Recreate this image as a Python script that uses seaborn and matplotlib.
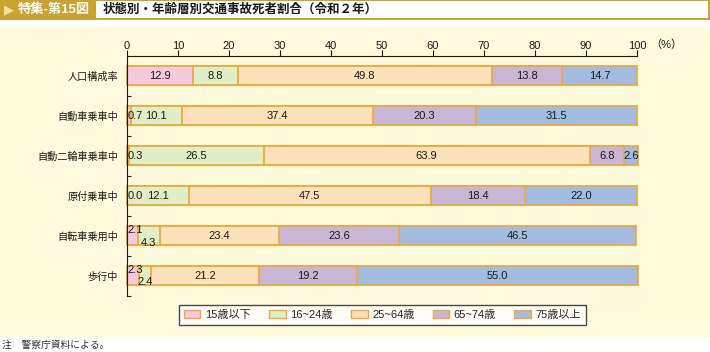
import numpy as np
import matplotlib
matplotlib.use('Agg')
import matplotlib.pyplot as plt
import seaborn as sns
from matplotlib.patches import Patch, Rectangle

# data (%)
categories = ['人口構成率', '自動車乗車中', '自動二輪車乗車中', '原付乗車中', '自転車乗用中', '歩行中']
age_groups = ['15歳以下', '16~24歳', '25~64歳', '65~74歳', '75歳以上']
under15 = [12.9, 0.7, 0.3, 0.0, 2.1, 2.3]
age16_24 = [8.8, 10.1, 26.5, 12.1, 4.3, 2.4]
age25_64 = [49.8, 37.4, 63.9, 47.5, 23.4, 21.2]
age65_74 = [13.8, 20.3, 6.8, 18.4, 23.6, 19.2]
over75 = [14.7, 31.5, 2.6, 22.0, 46.5, 55.0]

colors = ['#F6C8DD', '#E0EEC6', '#FDE1B9', '#C8B6D9', '#A2BCE1']
edge = '#F0A93A'
gold = '#C9A22F'
cream = '#FFFADB'

sns.set_style('white')
plt.rcParams['font.family'] = ['Liberation Sans', 'Noto Sans CJK JP', 'DejaVu Sans']

W, H = 710, 352
fig = plt.figure(figsize=(W / 100, H / 100), dpi=100)
fig.patch.set_facecolor('white')

def fx(px):
    return px / W

def fy(py):
    return 1 - py / H

# header band and cream panel
fig.patches.append(Rectangle((0, fy(20)), 1, 20 / H, transform=fig.transFigure,
                             facecolor=gold, edgecolor='none', zorder=-3))
fig.patches.append(Rectangle((fx(96), fy(18)), fx(612), 17 / H, transform=fig.transFigure,
                             facecolor='white', edgecolor='none', zorder=-2))
fig.patches.append(Rectangle((0, fy(337)), 1, 310 / H, transform=fig.transFigure,
                             facecolor=cream, edgecolor='none', zorder=-3))
fig.text(fx(4), fy(10), '▶', color='#F3E3A0', fontsize=9.5, va='center', ha='left',
         family=['DejaVu Sans'])
fig.text(fx(18), fy(10), '特集-第15図', color='white', fontsize=9.5, fontweight='bold',
         va='center', ha='left')
fig.text(fx(103), fy(10), '状態別・年齢層別交通事故死者割合（令和２年）', color='#1a1a1a',
         fontsize=9, fontweight='bold', va='center', ha='left')
fig.text(fx(2), fy(345), '注　警察庁資料による。', color='#333333', fontsize=7,
         va='center', ha='left')

ax = fig.add_axes([fx(127), fy(295.7), fx(510), 240 / H])
ax.set_facecolor('none')
ax.set_zorder(2)

series = [under15, age16_24, age25_64, age65_74, over75]
cum = np.cumsum(series, axis=0)

# stacked bars: draw cumulative totals from the widest down
for i in range(len(series) - 1, -1, -1):
    sns.barplot(x=cum[i], y=categories, order=categories, orient='h', color=colors[i],
                saturation=1, width=0.48, edgecolor=edge, linewidth=1.3,
                errorbar=None, ax=ax)
for p in ax.patches:
    p.set_clip_on(False)

# value labels
special = {
    (1, 0): (0.2, 0.0, 'left'),
    (2, 0): (0.2, 0.0, 'left'),
    (3, 0): (0.2, 0.0, 'left'),
    (4, 0): (0.1, -0.15, 'left'),
    (4, 1): (None, 0.18, 'center'),
    (5, 0): (0.1, -0.15, 'left'),
    (5, 1): (None, 0.16, 'center'),
}
for i, vals in enumerate(series):
    for j, v in enumerate(vals):
        x = cum[i][j] - v / 2
        dy = 0.0
        ha = 'center'
        if (j, i) in special:
            sx, dy, ha = special[(j, i)]
            if sx is not None:
                x = sx
        ax.text(x, j + dy, f'{v:.1f}', ha=ha, va='center', fontsize=8, color='#1a1a1a')

ax.set_xlim(0, 100)
ax.set_ylim(5.5, -0.5)
ax.set_xlabel('')
ax.set_ylabel('')
ax.xaxis.tick_top()
ax.set_xticks(range(0, 101, 10))
ax.tick_params(axis='x', direction='out', length=4, width=0.8, pad=-0.5, labelsize=8,
               colors='#1a1a1a')
ax.set_yticks(range(len(categories)))
ax.set_yticklabels(categories)
ax.tick_params(axis='y', which='major', length=0, pad=6.5, labelsize=7.3, colors='#1a1a1a')
ax.set_yticks(np.arange(0.5, 6, 1), minor=True)
ax.tick_params(axis='y', which='minor', direction='in', length=3, width=0.8, left=True)
for s in ['right', 'bottom']:
    ax.spines[s].set_visible(False)
for s in ['top', 'left']:
    ax.spines[s].set_color('#1a1a1a')
    ax.spines[s].set_linewidth(0.8)

fig.text(fx(650), fy(45), '（%）', fontsize=8, va='center', ha='left', color='#1a1a1a')

handles = [Patch(facecolor=c, edgecolor=edge, linewidth=1) for c in colors]
leg = fig.legend(handles, age_groups, loc='center', bbox_to_anchor=(fx(382.5), fy(315)),
                 ncol=5, fontsize=8, frameon=True, fancybox=False, edgecolor='#1a1a1a',
                 handlelength=1.5, handleheight=0.7, handletextpad=0.4, columnspacing=1.65,
                 borderpad=0.45)
leg.get_frame().set_linewidth(1)
leg.get_frame().set_facecolor('white')
leg.set_zorder(3)

fig.savefig('out.png', dpi=100, facecolor=fig.get_facecolor())
